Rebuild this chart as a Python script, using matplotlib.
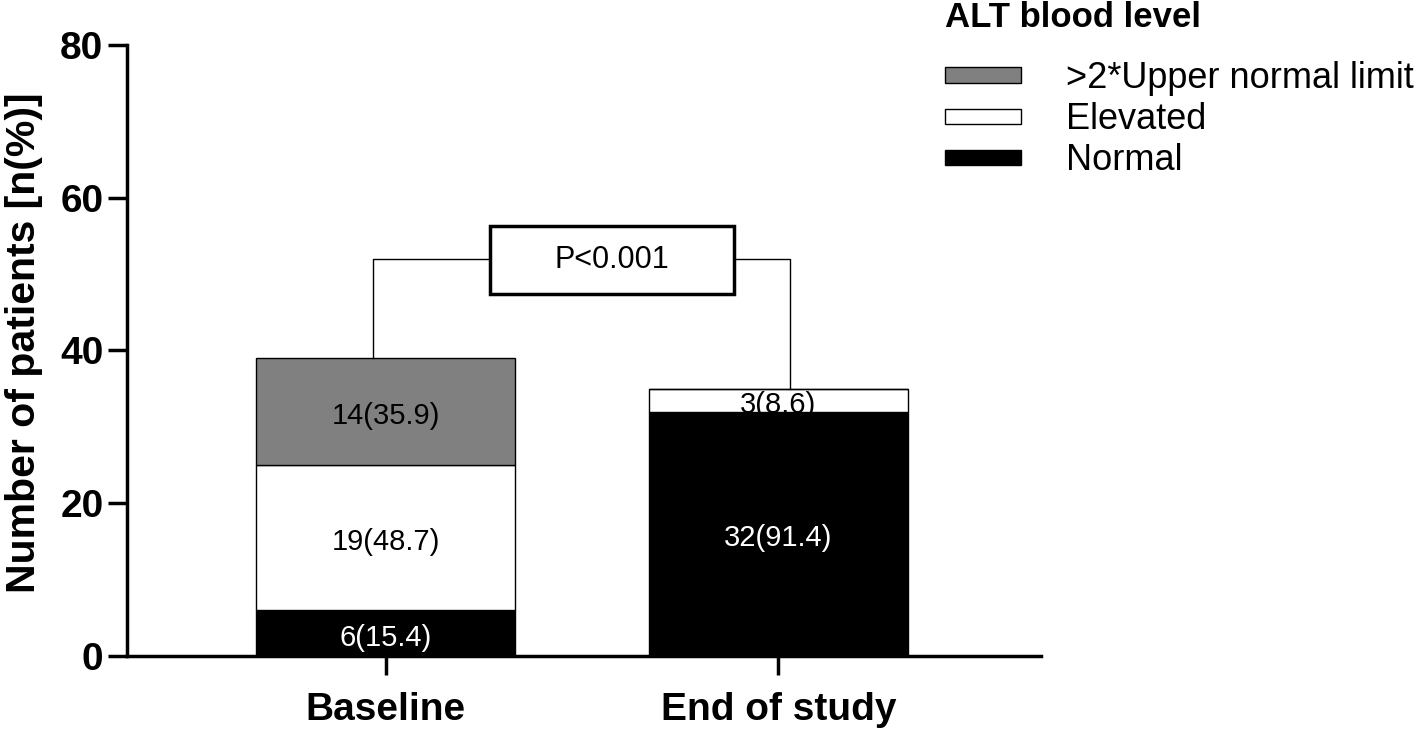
import numpy as np
from matplotlib import pyplot as plt
from matplotlib.patches import Patch, Rectangle

plt.rcParams['font.family'] = ['Liberation Sans', 'DejaVu Sans']

# data
groups = ['Baseline', 'End of study']
normal = [6, 32]
elevated = [19, 3]
high = [14, 0]
normal_pct = [15.4, 91.4]
elevated_pct = [48.7, 8.6]
high_pct = [35.9, 0.0]
p_text = 'P<0.001'
series_names = ['>2*Upper normal limit', 'Elevated', 'Normal']

x = np.arange(len(groups))
normal = np.array(normal)
elevated = np.array(elevated)
high = np.array(high)

fig = plt.figure(figsize=(14.18, 7.3), dpi=100)
ax = fig.add_axes([0.0896, 0.1014, 0.6446, 0.8370])

w = 0.66
ax.bar(x, normal, w, color='black', edgecolor='black', linewidth=1)
ax.bar(x, elevated, w, bottom=normal, color='white', edgecolor='black', linewidth=1)
ax.bar(x, high, w, bottom=normal + elevated, color='#808080', edgecolor='black', linewidth=1)

# segment labels
off = -0.6
for i in range(len(groups)):
    ax.text(x[i], normal[i] / 2 + off, '%d(%.1f)' % (normal[i], normal_pct[i]),
            ha='center', va='center', color='white', fontsize=21)
    if elevated[i] > 0:
        ax.text(x[i], normal[i] + elevated[i] / 2 + off, '%d(%.1f)' % (elevated[i], elevated_pct[i]),
                ha='center', va='center', color='black', fontsize=21)
    if high[i] > 0:
        ax.text(x[i], normal[i] + elevated[i] + high[i] / 2 + off, '%d(%.1f)' % (high[i], high_pct[i]),
                ha='center', va='center', color='black', fontsize=21)

# significance bracket
totals = normal + elevated + high
yb = 52
bx0, bx1 = 0.265, 0.888
ax.plot([x[0] - 0.033, x[0] - 0.033, bx0], [totals[0], yb, yb], color='black', lw=1)
ax.plot([bx1, x[1] + 0.03, x[1] + 0.03], [yb, yb, totals[1]], color='black', lw=1)
ax.add_patch(Rectangle((bx0, 47.4), bx1 - bx0, 8.9, facecolor='white',
                       edgecolor='black', lw=2.5, zorder=3))
ax.text((bx0 + bx1) / 2, 51.9, p_text, ha='center', va='center', fontsize=22, zorder=4)

ax.set_xlim(-0.659, 1.669)
ax.set_ylim(0, 80)
ax.set_yticks([0, 20, 40, 60, 80])
ax.set_xticks(x)
ax.set_xticklabels(groups, fontsize=28, fontweight='bold')
for lab in ax.get_yticklabels():
    lab.set_fontsize(28)
    lab.set_fontweight('bold')
ax.tick_params(axis='both', width=2.5, length=14, direction='out')
ax.tick_params(axis='x', pad=12)
ax.tick_params(axis='y', pad=3)
ax.spines['top'].set_visible(False)
ax.spines['right'].set_visible(False)
ax.spines['left'].set_linewidth(2.5)
ax.spines['bottom'].set_linewidth(2.5)
ax.set_ylabel('Number of patients [n(%)]', fontsize=29.5, fontweight='bold', labelpad=12)
ax.yaxis.label.set_y(0.513)

# legend
fig.text(945 / 1418, 1 - 27 / 730, 'ALT blood level', fontsize=25, fontweight='bold',
         ha='left', va='baseline')
handles = [Patch(facecolor='#808080', edgecolor='black', lw=1),
           Patch(facecolor='white', edgecolor='black', lw=1),
           Patch(facecolor='black', edgecolor='black', lw=1)]
leg = fig.legend(handles, series_names, loc='upper left',
                 bbox_to_anchor=(945 / 1418, 1 - 61 / 730),
                 frameon=False, fontsize=26, borderaxespad=0, borderpad=0,
                 handlelength=2.1, handleheight=0.27, labelspacing=0.17,
                 handletextpad=1.25)

fig.savefig('out.png', dpi=100)
